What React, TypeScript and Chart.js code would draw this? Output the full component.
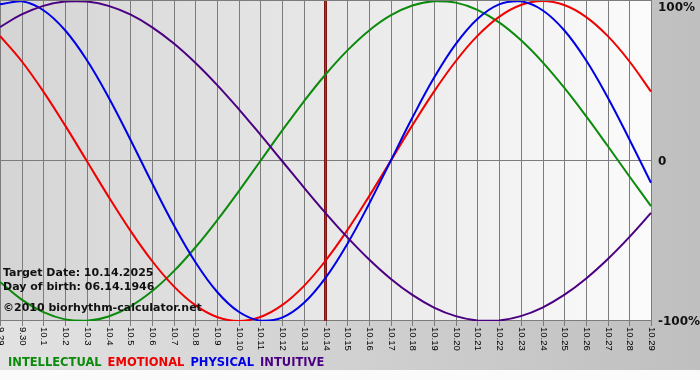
import React, { useEffect, useRef } from "react";
import { Chart, registerables } from "chart.js";

Chart.register(...registerables);

const dates = [
  "9.29", "9.30", "10.1", "10.2", "10.3", "10.4", "10.5", "10.6", "10.7", "10.8",
  "10.9", "10.10", "10.11", "10.12", "10.13", "10.14", "10.15", "10.16", "10.17", "10.18",
  "10.19", "10.20", "10.21", "10.22", "10.23", "10.24", "10.25", "10.26", "10.27", "10.28", "10.29",
];

const intellectual = [
  -75.57, -86.6, -94.5, -98.98, -99.89, -97.18, -90.96, -81.46, -69.01, -54.06,
  -37.17, -18.93, 0, 18.93, 37.17, 54.06, 69.01, 81.46, 90.96, 97.18,
  99.89, 98.98, 94.5, 86.6, 75.57, 61.82, 45.82, 28.17, 9.51, -9.51, -28.17,
];

const emotional = [
  78.18, 62.35, 43.39, 22.25, 0, -22.25, -43.39, -62.35, -78.18, -90.1,
  -97.49, -100, -97.49, -90.1, -78.18, -62.35, -43.39, -22.25, 0, 22.25,
  43.39, 62.35, 78.18, 90.1, 97.49, 100, 97.49, 90.1, 78.18, 62.35, 43.39,
];

const physical = [
  97.91, 99.77, 94.23, 81.7, 63.1, 39.84, 13.62, -13.62, -39.84, -63.1,
  -81.7, -94.23, -99.77, -97.91, -88.79, -73.08, -51.96, -26.98, 0, 26.98,
  51.96, 73.08, 88.79, 97.91, 99.77, 94.23, 81.7, 63.1, 39.84, 13.62, -13.62,
];

const intuitive = [
  83.72, 91.58, 96.94, 99.66, 99.66, 96.94, 91.58, 83.72, 73.57, 61.42,
  47.59, 32.47, 16.46, 0, -16.46, -32.47, -47.59, -61.42, -73.57, -83.72,
  -91.58, -96.94, -99.66, -99.66, -96.94, -91.58, -83.72, -73.57, -61.42, -47.59, -32.47,
];

const seriesNames = ["INTELLECTUAL", "EMOTIONAL", "PHYSICAL", "INTUITIVE"];
const seriesColors = ["#0c8a0c", "#f00000", "#0000e6", "#4b0082"];
const yTicks = [100, 0, -100];
const yTickLabels = ["100%", "0", "-100%"];
const targetLabel = "10.14";
const infoLines = ["Target Date: 10.14.2025", "Day of birth: 06.14.1946", "\u00a92010 biorhythm-calculator.net"];

export default function App() {
  const ref = useRef<HTMLCanvasElement | null>(null);

  useEffect(() => {
    document.body.style.margin = "0";
    const canvas = ref.current;
    if (!canvas) return;

    const decor = {
      id: "decor",
      beforeDraw(chart: any) {
        const ctx = chart.ctx as CanvasRenderingContext2D;
        const { left, right, top, bottom } = chart.chartArea;
        const xs = chart.scales.x;
        const ys = chart.scales.y;
        ctx.save();
        const g = ctx.createLinearGradient(0, 0, 700, 0);
        g.addColorStop(0, "#e2e2e2");
        g.addColorStop(1, "#bfbfbf");
        ctx.fillStyle = g;
        ctx.fillRect(0, 0, 700, 370);
        ctx.fillStyle = "#fbfbfb";
        ctx.fillRect(0, 370, 700, 10);
        const pg = ctx.createLinearGradient(left, 0, right, 0);
        pg.addColorStop(0, "#d4d4d4");
        pg.addColorStop(1, "#fbfbfb");
        ctx.fillStyle = pg;
        ctx.fillRect(left, top, right - left, bottom - top);
        ctx.strokeStyle = "#7c7c7c";
        ctx.lineWidth = 1;
        ctx.beginPath();
        dates.forEach((_, i) => {
          const x = Math.round(xs.getPixelForValue(i)) + 0.5;
          ctx.moveTo(x, top);
          ctx.lineTo(x, bottom + 5);
        });
        yTicks.forEach((v) => {
          const y = Math.round(ys.getPixelForValue(v)) - 0.5;
          ctx.moveTo(left, y);
          ctx.lineTo(right + 1, y);
        });
        ctx.stroke();
        const ti = dates.indexOf(targetLabel);
        const tx = xs.getPixelForValue(ti);
        ctx.strokeStyle = "#7d1414";
        ctx.lineWidth = 3;
        ctx.beginPath();
        ctx.moveTo(tx, top);
        ctx.lineTo(tx, bottom);
        ctx.stroke();
        ctx.strokeStyle = "#b23030";
        ctx.lineWidth = 1;
        ctx.beginPath();
        ctx.moveTo(tx, top);
        ctx.lineTo(tx, bottom);
        ctx.stroke();
        ctx.fillStyle = "#000";
        ctx.font = '9.5px "Liberation Sans"';
        ctx.textAlign = "left";
        ctx.textBaseline = "middle";
        dates.forEach((d, i) => {
          const x = Math.round(xs.getPixelForValue(i)) + 0.5;
          ctx.save();
          ctx.translate(x, bottom + 6);
          ctx.rotate(Math.PI / 2);
          ctx.fillText(d, 0, 0);
          ctx.restore();
        });
        ctx.font = 'bold 12px "DejaVu Sans"';
        ctx.fillStyle = "#111";
        ctx.textBaseline = "middle";
        yTicks.forEach((v, i) => {
          const y = Math.max(ys.getPixelForValue(v), 7);
          ctx.fillText(yTickLabels[i], right + 7, y + 1);
        });
        ctx.font = 'bold 11.5px "DejaVu Sans"';
        ctx.textBaseline = "alphabetic";
        let lx = 8;
        seriesNames.forEach((n, i) => {
          ctx.fillStyle = seriesColors[i];
          ctx.fillText(n, lx, 366);
          lx += ctx.measureText(n).width + 6;
        });
        ctx.restore();
      },
      afterDatasetsDraw(chart: any) {
        const ctx = chart.ctx as CanvasRenderingContext2D;
        ctx.save();
        ctx.font = 'bold 11px "DejaVu Sans"';
        ctx.fillStyle = "#111";
        ctx.textAlign = "left";
        ctx.textBaseline = "alphabetic";
        const ys = [276, 290, 311];
        infoLines.forEach((t, i) => ctx.fillText(t, 3, ys[i]));
        ctx.restore();
      },
    };

    const chart = new Chart(canvas, {
      type: "line",
      data: {
        labels: dates,
        datasets: [intellectual, emotional, physical, intuitive].map((d, i) => ({
          label: seriesNames[i],
          data: d,
          borderColor: seriesColors[i],
          backgroundColor: seriesColors[i],
          borderWidth: 2,
          pointRadius: 0,
          tension: 0.4,
          fill: false,
          order: 3 - i,
        })),
      },
      options: {
        responsive: false,
        animation: false,
        devicePixelRatio: 1,
        layout: { padding: { left: 0, right: 49, top: 1, bottom: 59 } },
        scales: {
          x: { display: false },
          y: { display: false, min: -100, max: 100 },
        },
        plugins: { legend: { display: false }, tooltip: { enabled: false } },
      },
      plugins: [decor],
    });
    return () => chart.destroy();
  }, []);

  return (
    <div style={{ position: "absolute", left: 0, top: 0, width: 700, height: 380 }}>
      <canvas ref={ref} width={700} height={380} style={{ display: "block" }} />
    </div>
  );
}
